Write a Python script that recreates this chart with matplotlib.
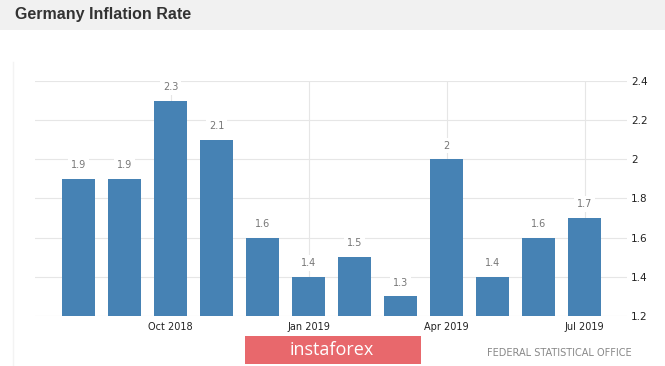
import matplotlib
matplotlib.use('Agg')
import matplotlib.pyplot as plt
from matplotlib.patches import Rectangle

# monthly values, Aug 2018 .. Jul 2019
months = ['Aug 2018', 'Sep 2018', 'Oct 2018', 'Nov 2018', 'Dec 2018', 'Jan 2019',
          'Feb 2019', 'Mar 2019', 'Apr 2019', 'May 2019', 'Jun 2019', 'Jul 2019']
rates = [1.9, 1.9, 2.3, 2.1, 1.6, 1.4, 1.5, 1.3, 2.0, 1.4, 1.6, 1.7]
xtick_idx = [2, 5, 8, 11]
xtick_labels = ['Oct 2018', 'Jan 2019', 'Apr 2019', 'Jul 2019']
yticks = [1.2, 1.4, 1.6, 1.8, 2.0, 2.2, 2.4]

W, H = 665, 366
fig = plt.figure(figsize=(W / 100, H / 100), dpi=100)
fig.patch.set_facecolor('white')

# title band
fig.patches.append(Rectangle((0, 1 - 30 / H), 1, 30 / H, transform=fig.transFigure,
                             facecolor='#f1f1f1', edgecolor='none', zorder=0))
fig.text(15 / W, 1 - 14 / H, 'Germany Inflation Rate', fontsize=11.5, fontweight='bold',
         color='#333333', family='Liberation Sans', va='center', ha='left')

# faint frame line on the left
fig.add_artist(plt.Line2D([13 / W, 13 / W], [0, 1 - 62 / H], transform=fig.transFigure,
                          color='#f3f3f3', lw=1))

ax = fig.add_axes([35 / W, 1 - 316 / H, 592 / W, 235 / H])
x = list(range(len(rates)))
ax.bar(x, rates, width=0.72, color='#4682b4', zorder=3)
ax.set_xlim(-0.95, 11.92)
ax.set_ylim(1.2, 2.4)

for xi, v in zip(x, rates):
    lbl = ('%g' % v)
    ax.text(xi, v + 0.045, lbl, ha='center', va='bottom', fontsize=7, color='#777777',
            zorder=4, bbox=dict(facecolor='white', edgecolor='none', pad=2))

ax.set_yticks(yticks)
ax.set_yticklabels(['%g' % t for t in yticks])
ax.yaxis.tick_right()
ax.set_xticks(xtick_idx)
ax.set_xticklabels(xtick_labels)
ax.tick_params(axis='y', length=0, labelsize=7.5, labelcolor='#222222', pad=3)
ax.tick_params(axis='x', length=0, labelsize=7, labelcolor='#222222', pad=4)
ax.grid(True, color='#e6e6e6', lw=0.8, zorder=0)
for s in ax.spines.values():
    s.set_visible(False)

# watermark box
fig.patches.append(Rectangle((245 / W, 1 - 364 / H), 176 / W, 28 / H, transform=fig.transFigure,
                             facecolor='#e8686c', edgecolor='none', zorder=1))
fig.text(332 / W, 1 - 350 / H, 'instaforex', fontsize=13, color='white', family='Open Sans',
         ha='center', va='center', zorder=2)
fig.text(632 / W, 1 - 353 / H, 'FEDERAL STATISTICAL OFFICE', fontsize=7, color='#888888',
         ha='right', va='center')

fig.savefig('out.png', dpi=100)
